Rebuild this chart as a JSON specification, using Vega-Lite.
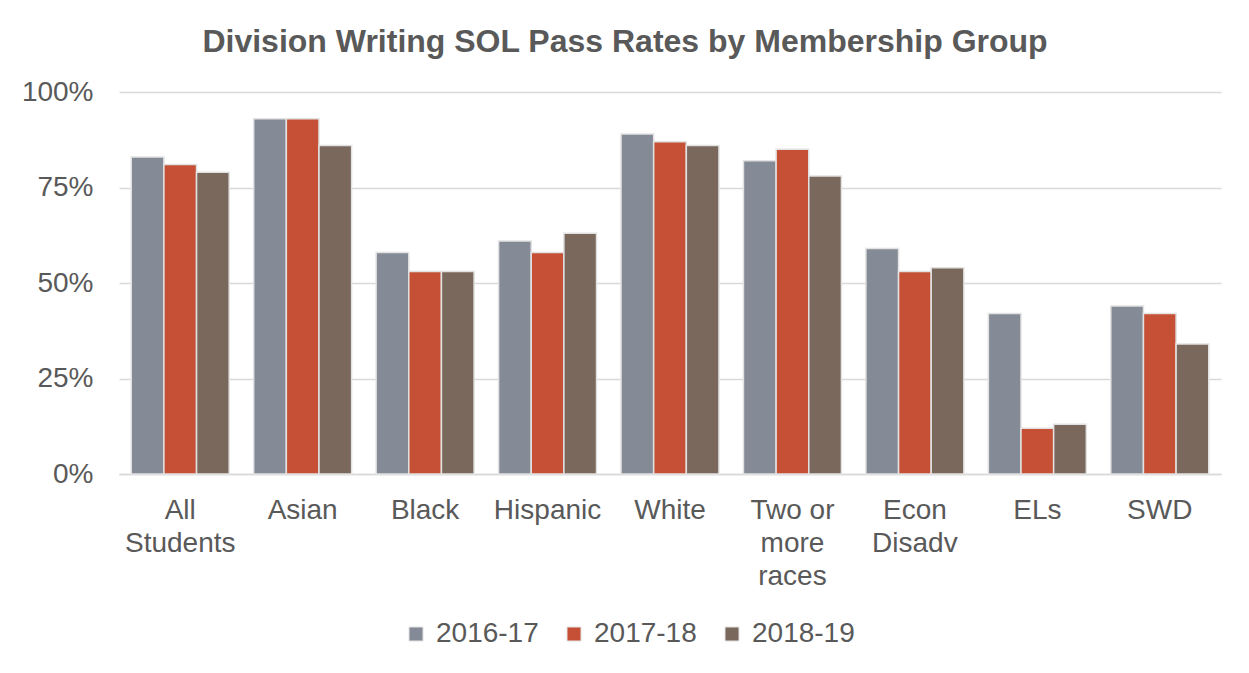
{
  "$schema": "https://vega.github.io/schema/vega-lite/v6.json",
  "autosize": "none",
  "width": 1102,
  "height": 382,
  "padding": {"left": 119, "top": 92, "right": 28, "bottom": 199},
  "background": "white",
  "title": {
    "text": "Division Writing SOL Pass Rates by Membership Group",
    "font": "Liberation Sans",
    "fontSize": 32,
    "fontWeight": "bold",
    "color": "#595959",
    "anchor": "middle",
    "dx": -45,
    "offset": 19
  },
  "data": {
    "values": [
      {"group": "All|Students", "year": "2016-17", "rate": 0.83},
      {"group": "All|Students", "year": "2017-18", "rate": 0.81},
      {"group": "All|Students", "year": "2018-19", "rate": 0.79},
      {"group": "Asian", "year": "2016-17", "rate": 0.93},
      {"group": "Asian", "year": "2017-18", "rate": 0.93},
      {"group": "Asian", "year": "2018-19", "rate": 0.86},
      {"group": "Black", "year": "2016-17", "rate": 0.58},
      {"group": "Black", "year": "2017-18", "rate": 0.53},
      {"group": "Black", "year": "2018-19", "rate": 0.53},
      {"group": "Hispanic", "year": "2016-17", "rate": 0.61},
      {"group": "Hispanic", "year": "2017-18", "rate": 0.58},
      {"group": "Hispanic", "year": "2018-19", "rate": 0.63},
      {"group": "White", "year": "2016-17", "rate": 0.89},
      {"group": "White", "year": "2017-18", "rate": 0.87},
      {"group": "White", "year": "2018-19", "rate": 0.86},
      {"group": "Two or|more|races", "year": "2016-17", "rate": 0.82},
      {"group": "Two or|more|races", "year": "2017-18", "rate": 0.85},
      {"group": "Two or|more|races", "year": "2018-19", "rate": 0.78},
      {"group": "Econ|Disadv", "year": "2016-17", "rate": 0.59},
      {"group": "Econ|Disadv", "year": "2017-18", "rate": 0.53},
      {"group": "Econ|Disadv", "year": "2018-19", "rate": 0.54},
      {"group": "ELs", "year": "2016-17", "rate": 0.42},
      {"group": "ELs", "year": "2017-18", "rate": 0.12},
      {"group": "ELs", "year": "2018-19", "rate": 0.13},
      {"group": "SWD", "year": "2016-17", "rate": 0.44},
      {"group": "SWD", "year": "2017-18", "rate": 0.42},
      {"group": "SWD", "year": "2018-19", "rate": 0.34}
    ]
  },
  "mark": {"type": "bar", "stroke": "#E2E2E2", "strokeWidth": 1.5},
  "encoding": {
    "x": {
      "field": "group",
      "type": "nominal",
      "sort": null,
      "scale": {"paddingInner": 0.2, "paddingOuter": 0.1},
      "axis": {
        "title": null,
        "labelAngle": 0,
        "labelExpr": "split(datum.label, '|')",
        "labelFont": "Liberation Sans",
        "labelFontSize": 28,
        "labelColor": "#595959",
        "labelLineHeight": 33,
        "labelPadding": 22,
        "ticks": false,
        "domainColor": "#D9D9D9",
        "domainWidth": 1.5
      }
    },
    "xOffset": {"field": "year", "type": "nominal", "scale": {"paddingInner": 0}},
    "y": {
      "field": "rate",
      "type": "quantitative",
      "scale": {"domain": [0, 1]},
      "axis": {
        "title": null,
        "format": ".0%",
        "values": [0, 0.25, 0.5, 0.75, 1],
        "labelFont": "Liberation Sans",
        "labelFontSize": 28,
        "labelColor": "#595959",
        "labelPadding": 26,
        "ticks": false,
        "domain": false,
        "gridColor": "#D9D9D9",
        "gridWidth": 1.5
      }
    },
    "color": {
      "field": "year",
      "type": "nominal",
      "scale": {
        "domain": ["2016-17", "2017-18", "2018-19"],
        "range": ["#848A96", "#C55035", "#7B685C"]
      },
      "legend": {
        "title": null,
        "orient": "none",
        "direction": "horizontal",
        "legendX": 283,
        "legendY": 528,
        "symbolType": "square",
        "symbolSize": 196,
        "symbolStrokeColor": "#E2E2E2",
        "symbolStrokeWidth": 1,
        "labelFont": "Liberation Sans",
        "labelFontSize": 28,
        "labelColor": "#595959",
        "labelOffset": 6,
        "columnPadding": 21
      }
    }
  },
  "config": {"view": {"stroke": null}}
}
